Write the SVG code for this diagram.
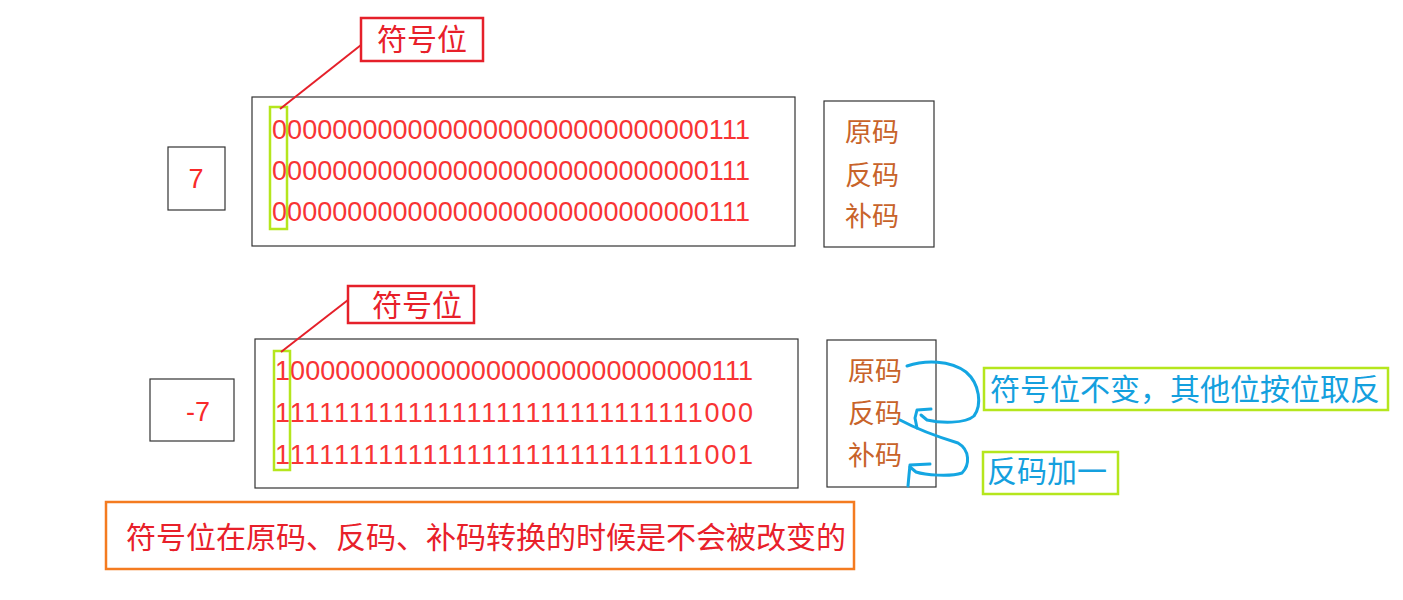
<svg xmlns="http://www.w3.org/2000/svg" width="1403" height="600" viewBox="0 0 1403 600">
<style>
.frame{fill:#fff;stroke:#333;stroke-width:1.2}
.sign{fill:none;stroke:#b5e61d;stroke-width:2.5}
.redbox{fill:#fff;stroke:#e5202a;stroke-width:2.5}
.greenbox{fill:#fff;stroke:#b5e61d;stroke-width:2.5}
.orangebox{fill:#fff;stroke:#f47b20;stroke-width:2.5}
.bin{font-family:"Liberation Sans",Arial,sans-serif;font-size:27px;fill:#f83434}
.num{font-family:"Liberation Sans",Arial,sans-serif;font-size:27px;fill:#f82a2a}
.cjk{font-family:"Noto Sans CJK SC","Microsoft YaHei",sans-serif}
.red{fill:#e8202a;font-size:30px}
.brown{fill:#c8632a;font-size:27px}
.blue{fill:#14a0de;font-size:30px}
.redline{stroke:#e5202a;stroke-width:2;fill:none}
.blueline{stroke:#14a6e2;stroke-width:3;fill:none;stroke-linecap:round;stroke-linejoin:round}
</style>
<rect width="1403" height="600" fill="#fff"/>

<g id="label-sign-top">
<rect class="redbox" x="361" y="18" width="122" height="43"/>
<text class="cjk red" x="422" y="50" text-anchor="middle">符号位</text>
</g>

<g id="value-7">
<rect class="frame" x="168" y="147" width="57" height="63"/>
<text class="num" x="196" y="188" text-anchor="middle">7</text>
</g>

<g id="bits-7">
<rect class="frame" x="252" y="97" width="543" height="149"/>
<text class="bin" x="272" y="139" textLength="478" lengthAdjust="spacing">00000000000000000000000000000111</text>
<text class="bin" x="272" y="180" textLength="478" lengthAdjust="spacing">00000000000000000000000000000111</text>
<text class="bin" x="272" y="221" textLength="478" lengthAdjust="spacing">00000000000000000000000000000111</text>
<rect class="sign" x="270" y="107" width="17" height="122"/>
</g>

<g id="codes-top">
<rect class="frame" x="824" y="101" width="110" height="146"/>
<text class="cjk brown" x="845" y="142">原码</text>
<text class="cjk brown" x="845" y="185">反码</text>
<text class="cjk brown" x="845" y="226">补码</text>
</g>

<g id="label-sign-bottom">
<rect class="redbox" x="348" y="286" width="126" height="37"/>
<text class="cjk red" x="417" y="316" text-anchor="middle">符号位</text>
</g>

<g id="value-neg7">
<rect class="frame" x="150" y="379" width="84" height="62"/>
<text class="num" x="198" y="421" text-anchor="middle">-7</text>
</g>

<g id="bits-neg7">
<rect class="frame" x="255" y="339" width="543" height="149"/>
<text class="bin" x="275" y="380" textLength="478" lengthAdjust="spacing">10000000000000000000000000000111</text>
<text class="bin" x="275" y="422" textLength="478" lengthAdjust="spacing">11111111111111111111111111111000</text>
<text class="bin" x="275" y="464" textLength="478" lengthAdjust="spacing">11111111111111111111111111111001</text>
<rect class="sign" x="274" y="351" width="16" height="119"/>
</g>

<g id="codes-bottom">
<rect class="frame" x="827" y="340" width="109" height="147"/>
<text class="cjk brown" x="848" y="381">原码</text>
<text class="cjk brown" x="848" y="423">反码</text>
<text class="cjk brown" x="848" y="465">补码</text>
</g>

<g id="note-invert">
<rect class="greenbox" x="984" y="368" width="404" height="42"/>
<text class="cjk blue" x="990" y="400">符号位不变，其他位按位取反</text>
</g>

<g id="note-plus-one">
<rect class="greenbox" x="983" y="452" width="135" height="42"/>
<text class="cjk blue" x="987" y="482">反码加一</text>
</g>

<g id="note-bottom">
<rect class="orangebox" x="106" y="502" width="748" height="67"/>
<text class="cjk red" x="126" y="548">符号位在原码、反码、补码转换的时候是不会被改变的</text>
</g>

<g id="connectors">
<line class="redline" x1="361" y1="45" x2="280" y2="109"/>
<line class="redline" x1="348" y1="300" x2="281" y2="352"/>
<path class="blueline" d="M907,366 C925,360 950,360 966,372 C980,384 982,405 974,416 C965,424 940,423 927,420 L921,415"/>
<path class="blueline" d="M931,409 L917,410 L915,418 L917,428"/>
<path class="blueline" d="M900,420 C915,428 935,436 958,443 C970,450 970,465 962,473 C950,477 925,475 916,472 L910,467"/>
<path class="blueline" d="M930,464 L910,465 L909,475 L908,486"/>
</g>
</svg>
